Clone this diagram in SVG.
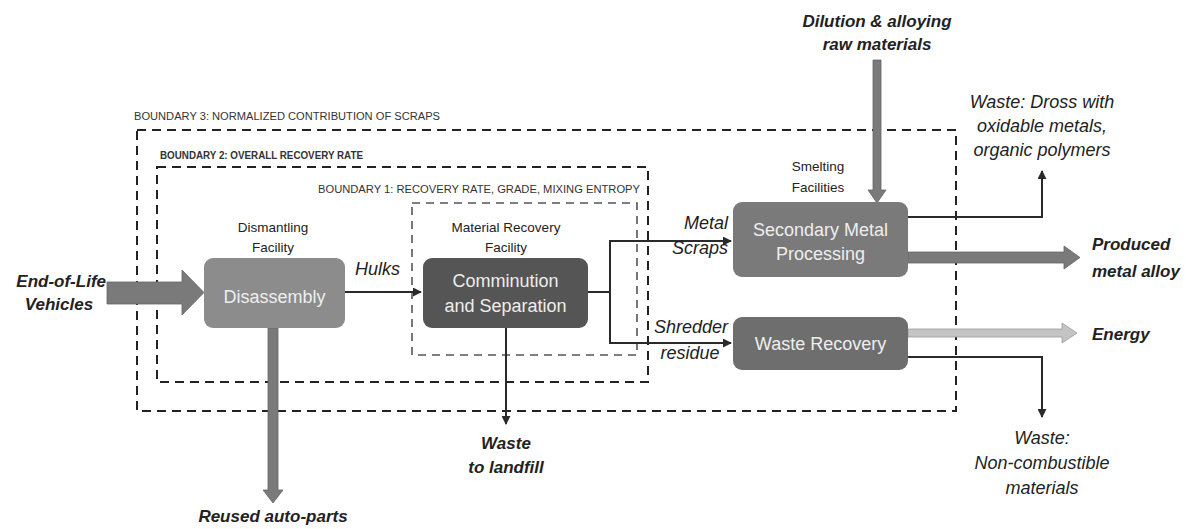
<svg xmlns="http://www.w3.org/2000/svg" width="1186" height="529" viewBox="0 0 1186 529">
  <style>
    text { font-family: "Liberation Sans", Arial, sans-serif; fill: #222; }
    .lbl { font-size: 13.5px; text-anchor: middle; }
    .box-t { font-size: 18px; fill: #eee; text-anchor: middle; }
    .flow { font-size: 18px; font-style: italic; }
    .io { font-size: 17px; font-style: italic; font-weight: bold; }
    .bnd-t { font-size: 10px; fill: #333; }
    .bnd { fill: none; stroke: #222; stroke-width: 2; stroke-dasharray: 9 6; }
    .bnd1 { fill: none; stroke: #555; stroke-width: 1.6; stroke-dasharray: 8 6; }
    .line { fill: none; stroke: #2a2a2a; stroke-width: 2; }
    .fat { fill: #7a7a7a; stroke: #666; stroke-width: 0.8; }
    .light { fill: #c4c4c4; stroke: #999; stroke-width: 0.8; }
  </style>
  <defs>
    <marker id="head" viewBox="0 0 10 10" refX="9" refY="5" markerWidth="4.5" markerHeight="4.5" orient="auto" markerUnits="strokeWidth">
      <path d="M0,0 L10,5 L0,10 z" fill="#2a2a2a"/>
    </marker>
  </defs>
  <rect width="1186" height="529" fill="#fff"/>

  <!-- System boundaries -->
  <g id="boundaries">
    <rect class="bnd" x="137" y="130" width="819" height="281"/>
    <text class="bnd-t" x="134" y="120" textLength="306" lengthAdjust="spacingAndGlyphs">BOUNDARY 3: NORMALIZED CONTRIBUTION OF SCRAPS</text>
    <rect class="bnd" x="157" y="167" width="491" height="215"/>
    <text class="bnd-t" x="160" y="159" font-weight="bold" textLength="203" lengthAdjust="spacingAndGlyphs">BOUNDARY 2: OVERALL RECOVERY RATE</text>
    <rect class="bnd1" x="412" y="203" width="225" height="152"/>
    <text class="bnd-t" x="318" y="193" fill="#555" textLength="322" lengthAdjust="spacingAndGlyphs">BOUNDARY 1: RECOVERY RATE, GRADE, MIXING ENTROPY</text>
  </g>

  <!-- Flows between and out of the processes -->
  <g id="connectors">
    <!-- bulk material flows -->
    <path class="fat" d="M107,282 H182 V270 L204,292.5 L182,315 V304 H107 Z"/>
    <path class="fat" d="M268,328 V490 H263 L273,503 L283,490 H278 V328 Z"/>
    <path class="fat" d="M873,60 V190 H868 L877,203 L886,190 H881 V60 Z"/>
    <path class="fat" d="M908,252 H1064 V246 L1080,257.5 L1064,269 V263 H908 Z"/>
    <path class="light" d="M908,329 H1062 V323 L1077,333 L1062,343 V337 H908 Z"/>
    <!-- line flows -->
    <path class="line" d="M345,292 H421" marker-end="url(#head)"/>
    <path class="line" d="M588,292 H610 V241 H731" marker-end="url(#head)"/>
    <path class="line" d="M610,292 V343 H731" marker-end="url(#head)"/>
    <path class="line" d="M506,328 V424" marker-end="url(#head)"/>
    <path class="line" d="M908,217 H1042 V171" marker-end="url(#head)"/>
    <path class="line" d="M908,357 H1042 V417" marker-end="url(#head)"/>
  </g>

  <!-- Process nodes -->
  <g id="disassembly">
    <text class="lbl" x="273" y="232">Dismantling</text>
    <text class="lbl" x="273" y="252">Facility</text>
    <rect x="204" y="258" width="141" height="70" rx="9" fill="#8c8c8c"/>
    <text class="box-t" x="274.5" y="303">Disassembly</text>
  </g>
  <g id="comminution">
    <text class="lbl" x="506" y="232">Material Recovery</text>
    <text class="lbl" x="506" y="252">Facility</text>
    <rect x="423" y="258" width="165" height="70" rx="9" fill="#555"/>
    <text class="box-t" x="505.5" y="287">Comminution</text>
    <text class="box-t" x="505.5" y="312">and Separation</text>
  </g>
  <g id="secondary-metal">
    <text class="lbl" x="818" y="171">Smelting</text>
    <text class="lbl" x="818" y="192">Facilities</text>
    <rect x="733" y="202" width="175" height="75" rx="9" fill="#7a7a7a"/>
    <text class="box-t" x="820.5" y="236">Secondary Metal</text>
    <text class="box-t" x="820.5" y="260">Processing</text>
  </g>
  <g id="waste-recovery">
    <rect x="733" y="317" width="175" height="53" rx="9" fill="#6e6e6e"/>
    <text class="box-t" x="820.5" y="350">Waste Recovery</text>
  </g>

  <!-- Flow labels -->
  <g id="flow-labels">
    <text class="flow" x="355" y="275">Hulks</text>
    <text class="flow" x="728" y="229" text-anchor="end">Metal</text>
    <text class="flow" x="728" y="254" text-anchor="end">Scraps</text>
    <text class="flow" x="691" y="333" text-anchor="middle">Shredder</text>
    <text class="flow" x="690" y="359" text-anchor="middle">residue</text>
    <text class="flow" x="1042" y="108" text-anchor="middle">Waste: Dross with</text>
    <text class="flow" x="1042" y="132" text-anchor="middle">oxidable metals,</text>
    <text class="flow" x="1042" y="156" text-anchor="middle">organic polymers</text>
    <text class="flow" x="1042" y="444" text-anchor="middle">Waste:</text>
    <text class="flow" x="1042" y="469" text-anchor="middle">Non-combustible</text>
    <text class="flow" x="1042" y="494" text-anchor="middle">materials</text>
  </g>

  <!-- System inputs and outputs -->
  <g id="inputs-outputs">
    <text class="io" x="106" y="287" text-anchor="end">End-of-Life</text>
    <text class="io" x="59" y="310" text-anchor="middle">Vehicles</text>
    <text class="io" x="877" y="27" text-anchor="middle">Dilution &amp; alloying</text>
    <text class="io" x="877" y="50" text-anchor="middle">raw materials</text>
    <text class="io" x="1092" y="250">Produced</text>
    <text class="io" x="1092" y="277">metal alloy</text>
    <text class="io" x="1092" y="340">Energy</text>
    <text class="io" x="506" y="449" text-anchor="middle">Waste</text>
    <text class="io" x="506" y="473" text-anchor="middle">to landfill</text>
    <text class="io" x="273" y="522" text-anchor="middle">Reused auto-parts</text>
  </g>
</svg>
